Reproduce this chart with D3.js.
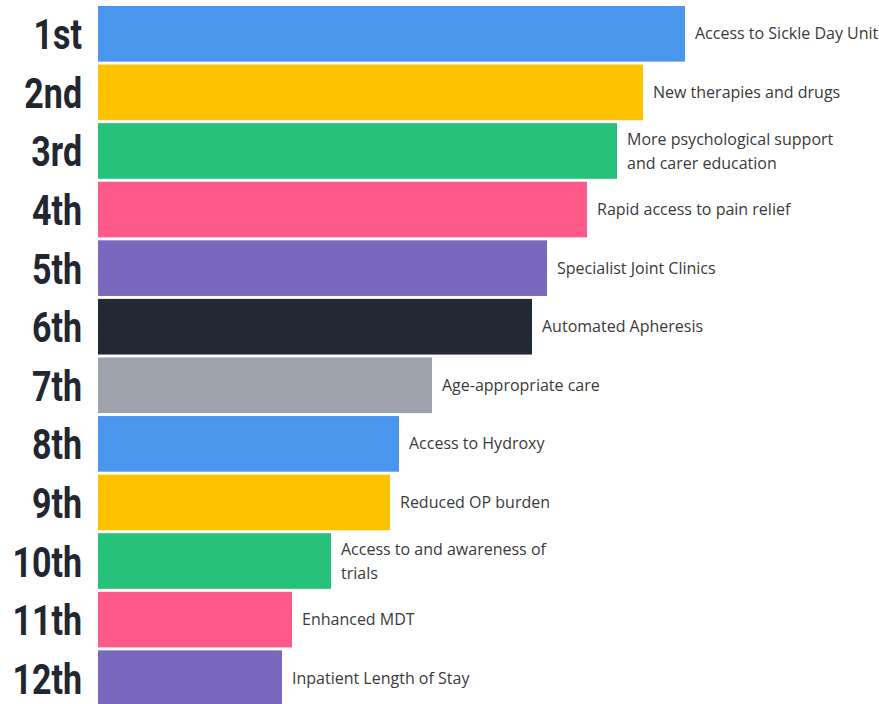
<!DOCTYPE html>
<html><head><meta charset="utf-8">
<script src="https://cdn.jsdelivr.net/npm/d3@7"></script>
<style>body{margin:0;background:#fff}svg{display:block}</style>
</head><body>
<svg id="c" width="879" height="704"></svg>
<script>
const ranks = ["1st","2nd","3rd","4th","5th","6th","7th","8th","9th","10th","11th","12th"];
const labels = [
  ["Access to Sickle Day Unit"],
  ["New therapies and drugs"],
  ["More psychological support","and carer education"],
  ["Rapid access to pain relief"],
  ["Specialist Joint Clinics"],
  ["Automated Apheresis"],
  ["Age-appropriate care"],
  ["Access to Hydroxy"],
  ["Reduced OP burden"],
  ["Access to and awareness of","trials"],
  ["Enhanced MDT"],
  ["Inpatient Length of Stay"]
];
const values = [587, 545, 519, 489, 449, 434, 334, 301, 292, 233, 194, 184];
const colors = ["#4a96ec","#fdc200","#27c27a","#fd5a8a","#7a68bf","#232a36","#9ea2ad","#4a96ec","#fdc200","#27c27a","#fd5a8a","#7a68bf"];

const svg = d3.select("#c");
const x = d3.scaleLinear().domain([0, 600]).range([98, 698]);
const y = d3.scaleBand().domain(ranks).range([6, 706]).paddingInner(0.05).paddingOuter(0);

const g = svg.append("g");
g.selectAll("rect").data(ranks).join("rect")
  .attr("x", x(0))
  .attr("y", d => y(d))
  .attr("width", (d,i) => x(values[i]) - x(0))
  .attr("height", y.bandwidth())
  .attr("fill", (d,i) => colors[i]);

const sx = 0.79;
const axis = d3.axisLeft(y).tickSize(0).tickPadding(16);
const ax = svg.append("g").attr("transform", `translate(${x(0)},0)`).call(axis);
ax.select(".domain").remove();
ax.selectAll("text")
  .attr("font-family","Roboto, sans-serif")
  .attr("font-weight","700")
  .attr("font-size","43px")
  .attr("fill","#222630")
  .attr("x", -16 / sx)
  .attr("dy","0.36em")
  .attr("transform", `scale(${sx},1)`);

ranks.forEach((r,i) => {
  const lines = labels[i];
  const cy = y(r) + y.bandwidth()/2;
  const t = svg.append("text")
    .attr("x", x(values[i]) + 10)
    .attr("font-family","'Open Sans', sans-serif")
    .attr("font-size","16px")
    .attr("fill","#3a3a3a");
  lines.forEach((l,j) => {
    t.append("tspan")
      .attr("x", x(values[i]) + 10)
      .attr("y", cy + (j - (lines.length-1)/2) * 24)
      .attr("dy","0.35em")
      .text(l);
  });
});
</script>
</body></html>
